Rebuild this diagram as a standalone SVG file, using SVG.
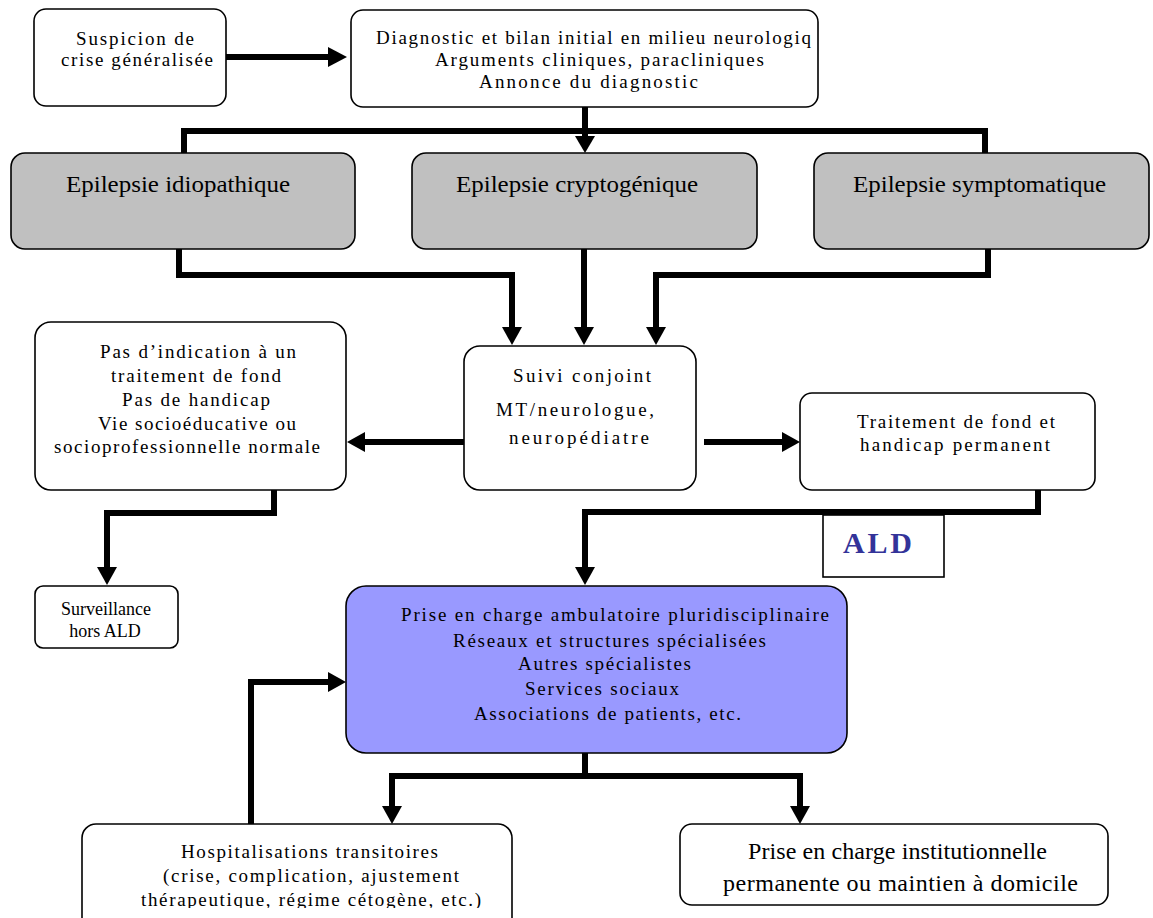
<svg xmlns="http://www.w3.org/2000/svg" width="1153" height="918" viewBox="0 0 1153 918">
<style>
.box{fill:#fff;stroke:#000;stroke-width:1.6}
.gray{fill:#c0c0c0;stroke:#000;stroke-width:1.6}
.blue{fill:#9999ff;stroke:#000;stroke-width:1.6}
.t{font-family:"Liberation Serif","Times New Roman",serif;font-size:19px;fill:#000}
.big{font-family:"Liberation Serif","Times New Roman",serif;font-size:24px;fill:#000}
.sm{font-family:"Liberation Serif","Times New Roman",serif;font-size:18px;fill:#000}
.ald{font-family:"Liberation Serif","Times New Roman",serif;font-size:30px;font-weight:bold;fill:#333399}
.ln{fill:none;stroke:#000;stroke-width:6;stroke-linejoin:miter}
.hd{fill:#000}
</style>
<defs>
<clipPath id="clipBottom"><rect x="0" y="0" width="1153" height="908"/></clipPath>
</defs>

<g id="connectors">
<path class="ln" d="M226,57 H329"/>
<polygon class="hd" points="328,47 347,57 328,67"/>
<path class="ln" d="M585,106 V137"/>
<polygon class="hd" points="575,136 595,136 585,153"/>
<path class="ln" d="M184,153 V131 H985 V153"/>
<path class="ln" d="M179,249 V275 H512 V328"/>
<polygon class="hd" points="502,327 522,327 512,345"/>
<path class="ln" d="M584,249 V328"/>
<polygon class="hd" points="574,327 594,327 584,345"/>
<path class="ln" d="M988,249 V275 H656 V328"/>
<polygon class="hd" points="646,327 666,327 656,345"/>
<path class="ln" d="M464,442 H363"/>
<polygon class="hd" points="365,432 365,452 347,442"/>
<path class="ln" d="M704,442 H784"/>
<polygon class="hd" points="782,432 782,452 800,442"/>
<path class="ln" d="M274,490 V513 H107 V568"/>
<polygon class="hd" points="97,567 117,567 107,585"/>
<path class="ln" d="M1038,490 V512 H585 V568"/>
<polygon class="hd" points="575,567 595,567 585,585"/>
<path class="ln" d="M251,824 V682 H329"/>
<polygon class="hd" points="328,672 328,692 346,682"/>
<path class="ln" d="M585,752 V776"/>
<path class="ln" d="M392,807 V776 H800 V807"/>
<polygon class="hd" points="382,806 402,806 392,824"/>
<polygon class="hd" points="790,806 810,806 800,824"/>
</g>

<g id="suspicion">
<rect class="box" x="34" y="9" width="192" height="97" rx="12"/>
<text class="t" x="76" y="45" textLength="118" lengthAdjust="spacing">Suspicion de</text>
<text class="t" x="61" y="66" textLength="152" lengthAdjust="spacing">crise généralisée</text>
</g>

<g id="diagnostic">
<rect class="box" x="351" y="10" width="467" height="97" rx="12"/>
<text class="t" x="376" y="44" textLength="435" lengthAdjust="spacing">Diagnostic et bilan initial en milieu neurologiq</text>
<text class="t" x="435" y="66" textLength="329" lengthAdjust="spacing">Arguments cliniques, paracliniques</text>
<text class="t" x="479" y="88" textLength="219" lengthAdjust="spacing">Annonce du diagnostic</text>
</g>

<g id="idiopathique">
<rect class="gray" x="11" y="153" width="344" height="96" rx="14"/>
<text class="big" x="66" y="192" textLength="224" lengthAdjust="spacingAndGlyphs">Epilepsie idiopathique</text>
</g>

<g id="cryptogenique">
<rect class="gray" x="412" y="153" width="345" height="96" rx="14"/>
<text class="big" x="456" y="192" textLength="242" lengthAdjust="spacingAndGlyphs">Epilepsie cryptogénique</text>
</g>

<g id="symptomatique">
<rect class="gray" x="814" y="153" width="335" height="96" rx="14"/>
<text class="big" x="853" y="192" textLength="253" lengthAdjust="spacingAndGlyphs">Epilepsie symptomatique</text>
</g>

<g id="pas-indication">
<rect class="box" x="35" y="322" width="311" height="168" rx="16"/>
<text class="t" x="100" y="358" textLength="196" lengthAdjust="spacing">Pas d’indication à un</text>
<text class="t" x="111" y="382" textLength="170" lengthAdjust="spacing">traitement de fond</text>
<text class="t" x="122" y="406" textLength="148" lengthAdjust="spacing">Pas de handicap</text>
<text class="t" x="98" y="430" textLength="198" lengthAdjust="spacing">Vie socioéducative ou</text>
<text class="t" x="54" y="453" textLength="266" lengthAdjust="spacing">socioprofessionnelle normale</text>
</g>

<g id="suivi">
<rect class="box" x="464" y="346" width="232" height="144" rx="16"/>
<text class="t" x="513" y="382" textLength="138" lengthAdjust="spacing">Suivi conjoint</text>
<text class="t" x="496" y="416" textLength="158" lengthAdjust="spacing">MT/neurologue,</text>
<text class="t" x="509" y="444" textLength="140" lengthAdjust="spacing">neuropédiatre</text>
</g>

<g id="traitement">
<rect class="box" x="800" y="393" width="295" height="97" rx="12"/>
<text class="t" x="857" y="428" textLength="198" lengthAdjust="spacing">Traitement de fond et</text>
<text class="t" x="860" y="451" textLength="190" lengthAdjust="spacing">handicap permanent</text>
</g>

<g id="ald">
<rect x="823" y="515" width="121" height="62" fill="#fff" stroke="#000" stroke-width="1.6"/>
<text class="ald" x="843" y="553" textLength="69" lengthAdjust="spacing">ALD</text>
</g>

<g id="surveillance">
<rect class="box" x="35" y="586" width="143" height="62" rx="8"/>
<text class="sm" x="106" y="615" text-anchor="middle">Surveillance</text>
<text class="sm" x="105" y="637" text-anchor="middle">hors ALD</text>
</g>

<g id="prise-ambulatoire">
<rect class="blue" x="346" y="586" width="501" height="167" rx="20"/>
<text class="t" x="401" y="621" textLength="428" lengthAdjust="spacing">Prise en charge ambulatoire pluridisciplinaire</text>
<text class="t" x="453" y="647" textLength="313" lengthAdjust="spacing">Réseaux et structures spécialisées</text>
<text class="t" x="518" y="670" textLength="173" lengthAdjust="spacing">Autres spécialistes</text>
<text class="t" x="525" y="695" textLength="154" lengthAdjust="spacing">Services sociaux</text>
<text class="t" x="474" y="720" textLength="267" lengthAdjust="spacing">Associations de patients, etc.</text>
</g>

<g id="hospitalisations">
<rect class="box" x="82" y="824" width="430" height="110" rx="14"/>
<g clip-path="url(#clipBottom)">
<text class="t" x="181" y="858" textLength="257" lengthAdjust="spacing">Hospitalisations transitoires</text>
<text class="t" x="163" y="882" textLength="296" lengthAdjust="spacing">(crise, complication, ajustement</text>
<text class="t" x="141" y="906" textLength="340" lengthAdjust="spacing">thérapeutique, régime cétogène, etc.)</text>
</g>
</g>

<g id="prise-institutionnelle">
<rect class="box" x="680" y="824" width="428" height="81" rx="12"/>
<text class="big" x="748" y="859" textLength="299" lengthAdjust="spacing">Prise en charge institutionnelle</text>
<text class="big" x="723" y="891" textLength="355" lengthAdjust="spacing">permanente ou maintien à domicile</text>
</g>
</svg>
